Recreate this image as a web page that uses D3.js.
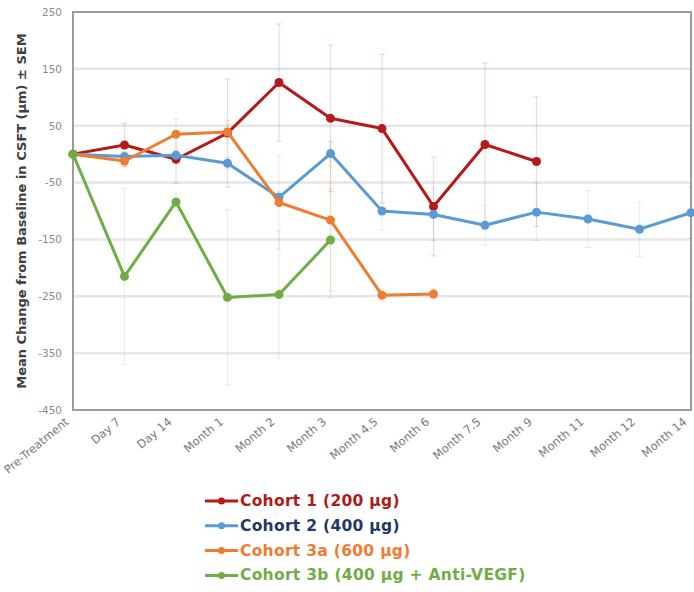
<!DOCTYPE html>
<html>
<head>
<meta charset="utf-8">
<script src="https://cdn.jsdelivr.net/npm/d3@7"></script>
<style>
  html, body { margin: 0; padding: 0; background: #fff; }
  svg { display: block; }
</style>
</head>
<body>
<div id="chart"></div>
<script>
// Visit labels along the x axis
const categories = ["Pre-Treatment", "Day 7", "Day 14", "Month 1", "Month 2", "Month 3",
  "Month 4.5", "Month 6", "Month 7.5", "Month 9", "Month 11", "Month 12", "Month 14"];

// Mean change from baseline in CSFT (µm), one entry per visit
const cohort1 = [0, 16, -9, 37, 126, 63, 45, -92, 17, -13];
const cohort2 = [0, -4, -2, -16, -76, 1, -100, -106, -125, -102, -114, -132, -103];
const cohort3a = [0, -12, 35, 39, -85, -116, -248, -246];
const cohort3b = [0, -215, -84, -252, -247, -151];

// Standard error of the mean at each visit
const cohort1Sem = [0, 38, 42, 95, 103, 129, 131, 87, 143, 114];
const cohort2Sem = [0, 8, 8, 10, 10, 22, 33, 46, 35, 50, 50, 48, 45];
const cohort3aSem = [0, 10, 26, 20, 82, 137, 10, 10];
const cohort3bSem = [0, 155, 15, 154, 112, 90];

const yTicks = [250, 150, 50, -50, -150, -250, -350, -450];

const seriesNames = ["Cohort 1 (200 µg)", "Cohort 2 (400 µg)", "Cohort 3a (600 µg)", "Cohort 3b (400 µg + Anti-VEGF)"];
const lineColors = ["#B51A1A", "#5B9BD5", "#ED7D31", "#70AD47"];
const textColors = ["#B01A1A", "#1F3A64", "#ED7D31", "#70AD47"];

const series = [cohort1, cohort2, cohort3a, cohort3b].map((vals, i) => ({
  name: seriesNames[i],
  color: lineColors[i],
  textColor: textColors[i],
  points: vals.map((v, j) => ({ cat: categories[j], value: v,
    sem: [cohort1Sem, cohort2Sem, cohort3aSem, cohort3bSem][i][j] }))
}));

const W = 694, H = 592;
const plot = { left: 73, right: 691, top: 12, bottom: 410 };

const svg = d3.select("#chart").append("svg")
  .attr("width", W).attr("height", H)
  .style("font-family", "'DejaVu Sans', sans-serif");

svg.append("rect").attr("width", W).attr("height", H).attr("fill", "#fff");

const x = d3.scalePoint().domain(categories).range([plot.left, plot.right]).padding(0);
const y = d3.scaleLinear().domain([-450, 250]).range([plot.bottom, plot.top]);

// Horizontal gridlines
svg.append("g").selectAll("line")
  .data(yTicks.slice(1, -1))
  .join("line")
  .attr("x1", plot.left).attr("x2", plot.right)
  .attr("y1", d => y(d)).attr("y2", d => y(d))
  .attr("stroke", "#e6e6e6").attr("stroke-width", 2.5);

// Y axis tick labels
const yAxis = d3.axisLeft(y).tickValues(yTicks).tickSize(0).tickPadding(11)
  .tickFormat(d => String(d));
const yG = svg.append("g").attr("transform", `translate(${plot.left},0)`).call(yAxis);
yG.select(".domain").remove();
yG.selectAll("text")
  .attr("fill", "#8a8a8a")
  .style("font-size", "10.5px")
  .style("font-family", "'DejaVu Sans', sans-serif");

// X axis tick labels, rotated
const xAxis = d3.axisBottom(x).tickSize(0).tickPadding(0);
const xG = svg.append("g").attr("transform", `translate(0,${plot.bottom})`).call(xAxis);
xG.select(".domain").remove();
xG.selectAll("text")
  .attr("fill", "#7a7a7a")
  .style("font-size", "11.5px")
  .style("font-family", "'DejaVu Sans', sans-serif")
  .attr("text-anchor", "end")
  .attr("dy", null)
  .attr("y", 0)
  .attr("transform", "translate(-4,13) rotate(-40)");

// Plot frame
svg.append("rect")
  .attr("x", plot.left).attr("y", plot.top)
  .attr("width", plot.right - plot.left).attr("height", plot.bottom - plot.top)
  .attr("fill", "none").attr("stroke", "#9c9c9c").attr("stroke-width", 2);

// Y axis title
svg.append("text")
  .attr("transform", `translate(22,${(plot.top + plot.bottom) / 2}) rotate(-90)`)
  .attr("text-anchor", "middle")
  .attr("dominant-baseline", "middle")
  .attr("fill", "#404040")
  .style("font-size", "13px")
  .style("font-weight", "bold")
  .text("Mean Change from Baseline in CSFT (µm) ± SEM");

// Error bars
const cap = 3;
series.forEach(s => {
  const g = svg.append("g").attr("stroke", s.color).attr("stroke-opacity", 0.16).attr("stroke-width", 1.2);
  s.points.filter(p => p.sem > 0).forEach(p => {
    const cx = x(p.cat);
    const y1 = y(p.value + p.sem), y2 = y(p.value - p.sem);
    g.append("line").attr("x1", cx).attr("x2", cx).attr("y1", y1).attr("y2", y2);
    g.append("line").attr("x1", cx - cap).attr("x2", cx + cap).attr("y1", y1).attr("y2", y1);
    g.append("line").attr("x1", cx - cap).attr("x2", cx + cap).attr("y1", y2).attr("y2", y2);
  });
});

// Series lines and markers
const line = d3.line().x(p => x(p.cat)).y(p => y(p.value));
series.forEach(s => {
  svg.append("path").datum(s.points)
    .attr("d", line)
    .attr("fill", "none")
    .attr("stroke", s.color)
    .attr("stroke-width", 3)
    .attr("stroke-linejoin", "round");
  svg.append("g").selectAll("circle")
    .data(s.points)
    .join("circle")
    .attr("cx", p => x(p.cat)).attr("cy", p => y(p.value))
    .attr("r", 4.5)
    .attr("fill", s.color);
});

// Legend
const legend = svg.append("g").attr("transform", "translate(205,501)");
const rowH = 24.8;
series.forEach((s, i) => {
  const g = legend.append("g").attr("transform", `translate(0,${i * rowH})`);
  g.append("line").attr("x1", 0).attr("x2", 33).attr("y1", 0).attr("y2", 0)
    .attr("stroke", s.color).attr("stroke-width", 3);
  g.append("circle").attr("cx", 16.5).attr("cy", 0).attr("r", 3.5).attr("fill", s.color);
  g.append("text").attr("x", 35).attr("y", 0)
    .attr("dominant-baseline", "central")
    .attr("fill", s.textColor)
    .style("font-size", "15.5px")
    .style("letter-spacing", "0.3px")
    .style("font-weight", "bold")
    .text(s.name);
});
</script>
</body>
</html>
